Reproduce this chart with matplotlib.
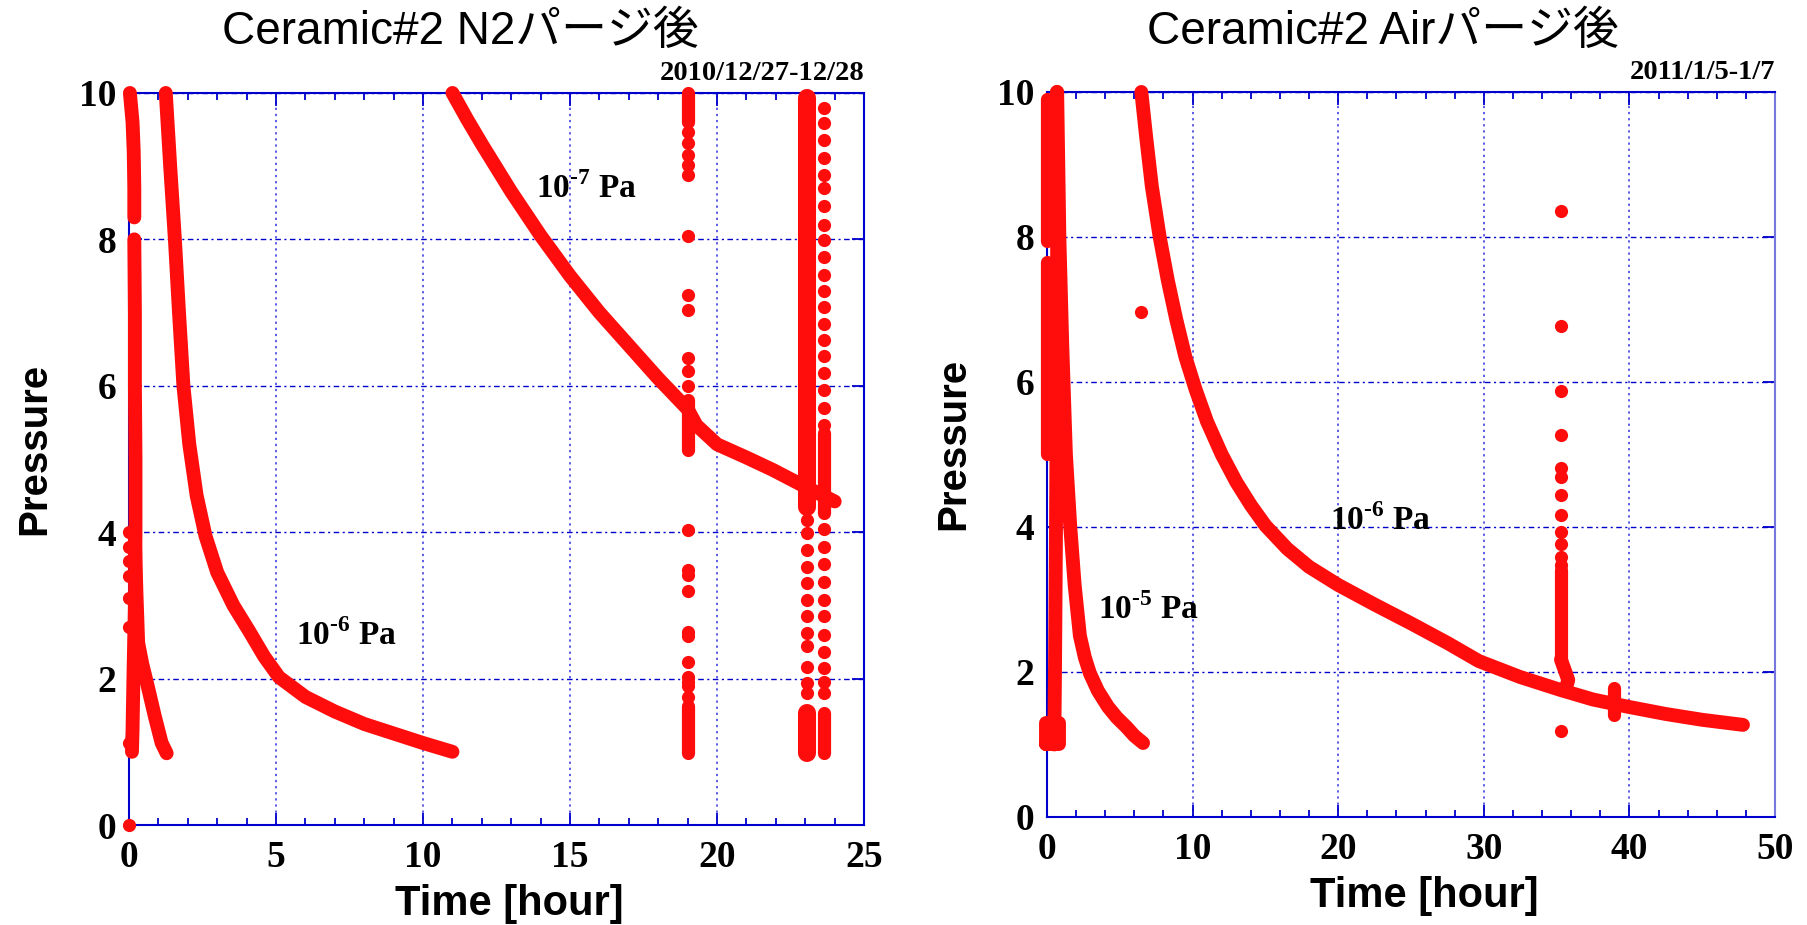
import numpy as np
import matplotlib
matplotlib.use('Agg')
import matplotlib.pyplot as plt

nan = np.nan

# ---- Ceramic#2 N2 purge (left) ----
n2_spike_x = [0.03, 0.12, 0.16, 0.18, 0.18, nan, 0.18, 0.2, 0.2, 0.22, 0.22, 0.2, 0.15, 0.12, 0.1]
n2_spike_y = [10.0, 9.6, 9.2, 8.7, 8.3, nan, 8.0, 7.0, 6.0, 5.0, 4.0, 3.0, 2.0, 1.3, 1.0]

n2_branch_x = [0.2, 0.25, 0.31, 0.45, 0.61, 0.88, 1.11, 1.28]
n2_branch_y = [3.9, 3.2, 2.49, 2.2, 1.94, 1.48, 1.12, 0.98]

n2_edge_x = [0.0, 0.0, 0.0, 0.0, 0.0, 0.0, 0.0, 0.0]
n2_edge_y = [4.0, 3.8, 3.6, 3.4, 3.1, 2.7, 1.12, 0.0]

n2_curve6_x = [1.25, 1.4, 1.56, 1.7, 1.85, 2.05, 2.3, 2.6, 3.0, 3.55, 4.1, 4.6, 5.1, 6.0, 7.0, 8.0, 9.0, 10.0, 11.0]
n2_curve6_y = [10.0, 9.0, 8.0, 7.0, 6.0, 5.2, 4.5, 3.95, 3.45, 3.0, 2.64, 2.3, 2.02, 1.75, 1.55, 1.38, 1.25, 1.12, 1.0]

n2_curve7_x = [11.0, 11.5, 12.0, 13.0, 14.0, 15.0, 16.0, 17.0, 18.0, 19.0, 19.3, 20.0, 21.0, 21.9, 23.0, 24.0]
n2_curve7_y = [10.0, 9.64, 9.3, 8.65, 8.05, 7.5, 7.0, 6.55, 6.1, 5.68, 5.46, 5.2, 5.02, 4.85, 4.62, 4.42]

n2_col19_x = 19.0
n2_col19_dots = [9.47, 9.31, 9.15, 9.02, 8.88, 8.04, 7.24, 7.04, 6.38, 6.2, 6.0,
                 4.03, 3.48, 3.42, 3.19, 2.64, 2.58, 2.23, 2.02, 1.96, 1.90, 1.75]
n2_col19_bands = [(9.6, 10.0), (5.12, 5.8), (0.98, 1.62)]

n2_col23a_x = 23.05
n2_col23a_dots = [4.17, 3.99, 3.76, 3.53, 3.30, 3.07, 2.85, 2.62, 2.44, 2.16, 1.94, 1.80]
n2_col23a_bands = [(4.35, 9.93), (0.98, 1.53)]

n2_col23b_x = 23.62
n2_col23b_dots = [9.79, 9.59, 9.36, 9.11, 8.88, 8.70, 8.45, 8.20, 7.99, 7.76, 7.51, 7.29,
                  7.08, 6.85, 6.63, 6.40, 6.17, 5.94, 5.69, 5.46,
                  4.05, 3.80, 3.57, 3.32, 3.07, 2.85, 2.60, 2.37, 2.14, 1.96, 1.80]
n2_col23b_bands = [(4.26, 5.35), (0.98, 1.53)]

# ---- Ceramic#2 Air purge (right) ----
air_col0_x = 0.0
air_col0_bands = [(7.95, 9.9), (5.0, 7.65)]

air_drop_x = [0.68, 0.7, 0.68, 0.62, 0.55, 0.5]
air_drop_y = [10.0, 8.0, 6.0, 4.0, 2.0, 1.0]

air_blob_x = [-0.1, 0.8, 0.8, -0.1, -0.1]
air_blob_y = [1.0, 1.0, 1.3, 1.3, 1.0]

air_curve5_x = [0.7, 0.85, 1.05, 1.3, 1.6, 1.9, 2.26, 2.6, 2.95, 3.5, 4.19, 4.8, 5.46, 6.0, 6.6]
air_curve5_y = [10.0, 8.0, 6.5, 5.0, 4.0, 3.2, 2.5, 2.2, 1.98, 1.74, 1.52, 1.37, 1.24, 1.12, 1.02]

air_curve6_x = [6.48, 6.8, 7.2, 7.74, 8.3, 8.88, 9.5, 10.2, 11.0, 12.0, 13.0, 14.0, 15.0, 16.5, 18.0,
                20.0, 22.5, 25.0, 27.5, 29.66, 32.5, 35.3, 37.5, 39.9, 42.5, 45.0, 47.8]
air_curve6_y = [10.0, 9.4, 8.7, 8.0, 7.4, 6.86, 6.35, 5.9, 5.45, 5.0, 4.62, 4.3, 4.02, 3.7, 3.45,
                3.2, 2.93, 2.67, 2.4, 2.15, 1.93, 1.75, 1.62, 1.52, 1.42, 1.34, 1.27]

air_single_x = [6.48, 35.3]
air_single_y = [6.97, 1.19]

air_col35_x = 35.3
air_col35_dots = [8.36, 6.77, 5.88, 5.27, 4.82, 4.69, 4.44, 4.16, 3.93, 3.76, 3.59, 3.48]
air_col35_bands = [(2.17, 3.41)]
air_hook_x = [35.3, 35.8, 35.6]
air_hook_y = [2.17, 1.89, 1.75]

air_col39_x = 38.97
air_col39_bands = [(1.41, 1.78)]

RED = '#ff0d0d'
BLUE = '#0000cc'
SERIF = 'Liberation Serif'

plt.rcParams['font.family'] = ['Liberation Sans', 'Noto Sans CJK JP']
plt.rcParams['mathtext.fontset'] = 'custom'
plt.rcParams['mathtext.rm'] = 'Liberation Serif:bold'
plt.rcParams['mathtext.bf'] = 'Liberation Serif:bold'


def curve(ax, x, y, lw=10):
    ax.plot(x, y, '-', color=RED, lw=lw, solid_capstyle='round',
            solid_joinstyle='round', clip_on=False, zorder=3)


def dots(ax, x, y):
    ax.plot(x, y, 'o', color=RED, ms=9.5, mew=0, clip_on=False, zorder=3)


def column(ax, x, ys, bands, lw=9.5):
    dots(ax, [x] * len(ys), ys)
    for lo, hi in bands:
        curve(ax, [x, x], [lo, hi], lw=lw)


def style(ax, xmax, xmajor, xminor):
    ax.set_xlim(0, xmax)
    ax.set_ylim(0, 10)
    ax.set_xticks(np.arange(0, xmax + 0.1, xmajor))
    ax.set_xticks(np.arange(0, xmax + 0.1, xminor), minor=True)
    ax.set_yticks(np.arange(0, 10.1, 2))
    ax.tick_params(which='both', direction='in', top=True, right=True,
                   color=BLUE, width=1.3)
    ax.tick_params(which='major', length=9, labelsize=27)
    ax.tick_params(axis='x', which='major', pad=11)
    ax.tick_params(axis='y', which='major', pad=9)
    ax.tick_params(which='minor', length=5)
    for lab in ax.get_xticklabels() + ax.get_yticklabels():
        lab.set_fontfamily(SERIF)
        lab.set_fontweight('bold')
    for s in ax.spines.values():
        s.set_color(BLUE)
        s.set_linewidth(1.5)
    ax.xaxis.grid(True, color='#3333dd', linestyle=(0, (1.5, 2.5)), linewidth=1.1)
    ax.yaxis.grid(True, color=BLUE, linestyle=(0, (4, 2.5, 1.5, 2.5)), linewidth=1.0)
    ax.set_axisbelow(True)
    ax.set_xlabel('Time [hour]', fontsize=30, fontweight='bold')
    ax.set_ylabel('Pressure', fontsize=29, fontweight='bold')
    ax.xaxis.set_label_coords(0.518, -0.081)
    ax.yaxis.set_label_coords(-0.103, 0.514)


def pa_label(ax, x, y, exp):
    ax.text(x, y, r'10$^{\text{' + exp + r'}}$ Pa', fontsize=24,
            fontfamily=SERIF, fontweight='bold', va='baseline')


fig = plt.figure(figsize=(18.07, 9.25), dpi=100)
ax1 = fig.add_axes([0.0714, 0.1081, 0.4068, 0.7914])
ax2 = fig.add_axes([0.5794, 0.1168, 0.4029, 0.7838])

# left panel
style(ax1, 25, 5, 1)
curve(ax1, n2_spike_x, n2_spike_y)
curve(ax1, n2_branch_x, n2_branch_y)
dots(ax1, n2_edge_x, n2_edge_y)
curve(ax1, n2_curve6_x, n2_curve6_y)
curve(ax1, n2_curve7_x, n2_curve7_y)
column(ax1, n2_col19_x, n2_col19_dots, n2_col19_bands)
column(ax1, n2_col23a_x, n2_col23a_dots, n2_col23a_bands, lw=13)
column(ax1, n2_col23b_x, n2_col23b_dots, n2_col23b_bands)
pa_label(ax1, 13.84, 8.57, '-7')
pa_label(ax1, 5.68, 2.46, '-6')
ax1.text(1.0, 1.01, '2010/12/27-12/28', transform=ax1.transAxes, ha='right',
         va='bottom', fontsize=20.5, fontfamily=SERIF, fontweight='bold')

# right panel
style(ax2, 50, 10, 2)
ax2.spines['right'].set_color('#7777dd')
column(ax2, air_col0_x, [], air_col0_bands)
curve(ax2, air_drop_x, air_drop_y)
curve(ax2, air_blob_x, air_blob_y)
curve(ax2, air_curve5_x, air_curve5_y)
curve(ax2, air_curve6_x, air_curve6_y)
dots(ax2, air_single_x, air_single_y)
column(ax2, air_col35_x, air_col35_dots, air_col35_bands)
curve(ax2, air_hook_x, air_hook_y)
column(ax2, air_col39_x, [], air_col39_bands)
pa_label(ax2, 19.45, 3.96, '-6')
pa_label(ax2, 3.5, 2.73, '-5')
ax2.text(1.0, 1.01, '2011/1/5-1/7', transform=ax2.transAxes, ha='right',
         va='bottom', fontsize=20.5, fontfamily=SERIF, fontweight='bold')

fig.text(460 / 1807, 1 - 32 / 925, 'Ceramic#2 N2パージ後', fontsize=33,
         ha='center', va='center')
fig.text(1383 / 1807, 1 - 32 / 925, 'Ceramic#2 Airパージ後', fontsize=33,
         ha='center', va='center')

fig.savefig('out.png', dpi=100, facecolor='white')
